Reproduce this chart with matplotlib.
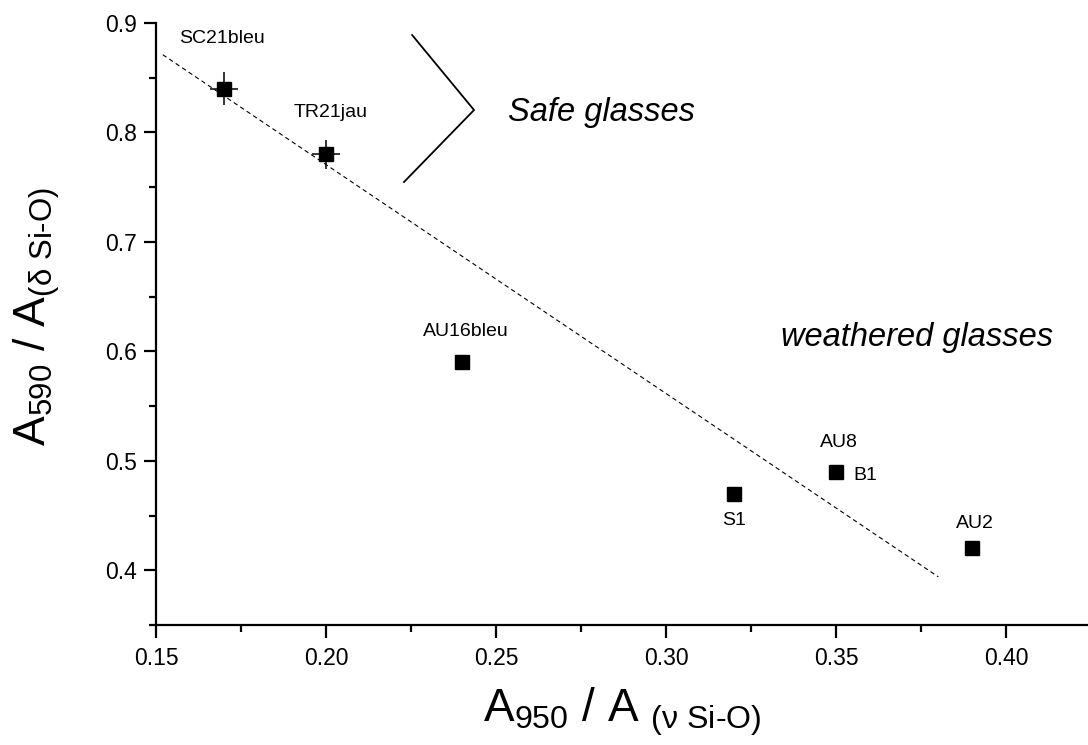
import matplotlib
matplotlib.use("Agg")
import matplotlib.pyplot as plt
from matplotlib.ticker import MultipleLocator, FormatStrFormatter

plt.rcParams['font.family'] = ['Liberation Sans', 'DejaVu Sans']
plt.rcParams['mathtext.fontset'] = 'custom'
plt.rcParams['mathtext.rm'] = 'Liberation Sans'
plt.rcParams['mathtext.it'] = 'Liberation Sans'
plt.rcParams['mathtext.bf'] = 'Liberation Sans:bold'

# data
names = ["SC21bleu", "TR21jau", "AU16bleu", "S1", "AU8", "AU2"]
x_ratio = [0.17, 0.20, 0.24, 0.32, 0.35, 0.39]
y_ratio = [0.84, 0.78, 0.59, 0.47, 0.49, 0.42]
x_err = [0.004, 0.004, 0, 0, 0, 0]
y_err = [0.015, 0.013, 0, 0, 0, 0]
fit_x = [0.152, 0.380]
fit_y = [0.871, 0.394]
bracket_x = [0.2253, 0.2435, 0.2229]
bracket_y = [0.889, 0.8205, 0.7547]
x_ticks = [0.15, 0.20, 0.25, 0.30, 0.35, 0.40]
y_ticks = [0.4, 0.5, 0.6, 0.7, 0.8, 0.9]

fig = plt.figure(figsize=(10.88, 7.45), dpi=100)
ax = fig.add_axes([156/1088, 120/745, 1 - 156/1088, (625-23)/745])

ax.plot(fit_x, fit_y, linestyle=(0, (4, 3)), color='black', lw=0.8)
ax.plot(bracket_x, bracket_y, color='black', lw=1.3)

for xi, yi, xe, ye in zip(x_ratio, y_ratio, x_err, y_err):
    if xe or ye:
        ax.errorbar(xi, yi, xerr=xe, yerr=ye, fmt='none', ecolor='black',
                    elinewidth=1.1, capsize=0)
ax.plot(x_ratio, y_ratio, linestyle='none', marker='s', markersize=10,
        color='black')

offsets = {
    "SC21bleu": (-1.5, 36, 'center'),
    "TR21jau": (3, 30, 'center'),
    "AU16bleu": (3, 22, 'center'),
    "S1": (0, -19, 'center'),
    "AU8": (2, 21, 'center'),
    "AU2": (2, 18, 'center'),
}
for n, xi, yi in zip(names, x_ratio, y_ratio):
    dx, dy, ha = offsets[n]
    ax.annotate(n, (xi, yi), xytext=(dx, dy), textcoords='offset points',
                ha=ha, va='center', fontsize=14)
ax.annotate("B1", (x_ratio[4], y_ratio[4]), xytext=(12, -3),
            textcoords='offset points', ha='left', va='center', fontsize=14)

ax.text(0.2535, 0.818, "Safe glasses", style='italic', fontsize=23.5,
        ha='left', va='center')
ax.text(0.3336, 0.6125, "weathered glasses", style='italic', fontsize=23.5,
        ha='left', va='center')

ax.set_xlim(0.15, 0.424)
ax.set_ylim(0.35, 0.9)
ax.set_xticks(x_ticks)
ax.set_yticks(y_ticks)
ax.xaxis.set_minor_locator(MultipleLocator(0.025))
ax.yaxis.set_minor_locator(MultipleLocator(0.05))
ax.xaxis.set_major_formatter(FormatStrFormatter('%.2f'))
ax.yaxis.set_major_formatter(FormatStrFormatter('%.1f'))

for s in ['top', 'right']:
    ax.spines[s].set_visible(False)
for s in ['left', 'bottom']:
    ax.spines[s].set_linewidth(1.6)
ax.tick_params(which='major', direction='out', length=9, width=1.6,
               labelsize=16.5, pad=5)
ax.tick_params(axis='x', which='major', pad=7)
ax.tick_params(which='minor', direction='out', length=5, width=1.6)

ax.set_xlabel(r'$\mathrm{A_{950}\ /\ A\ {}_{\text{(ν Si-O)}}}$', fontsize=33,
              labelpad=11)
ax.set_ylabel(r'$\mathrm{A_{590}\ /\ A_{\text{(δ Si-O)}}}$', fontsize=32,
              labelpad=28)
ax.yaxis.set_label_coords(-0.101, 0.513)

fig.savefig("out.png", dpi=100)
